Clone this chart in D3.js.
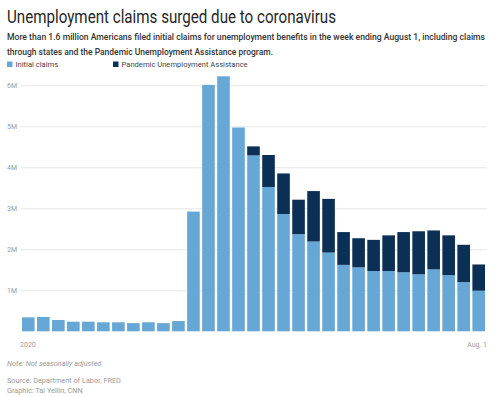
<!DOCTYPE html>
<html>
<head>
<meta charset="utf-8">
<script src="https://cdn.jsdelivr.net/npm/d3@7"></script>
<style>
  body { margin: 0; background: #fff; }
  svg { display: block; }
  text { font-family: Roboto, "Noto Sans", sans-serif; }
</style>
</head>
<body>
<div id="chart"></div>
<script>
// week ending dates, 2020
const weeks = ['01-04','01-11','01-18','01-25','02-01','02-08','02-15','02-22','02-29','03-07',
  '03-14','03-21','03-28','04-04','04-11','04-18','04-25','05-02','05-09','05-16','05-23',
  '05-30','06-06','06-13','06-20','06-27','07-04','07-11','07-18','07-25','08-01'];

// millions of claims
const initialClaims = [0.34, 0.35, 0.275, 0.235, 0.235, 0.22, 0.22, 0.20, 0.22, 0.20,
  0.25, 2.92, 6.01, 6.22, 4.97, 4.29, 3.52, 2.86, 2.37, 2.19, 1.92,
  1.62, 1.56, 1.47, 1.47, 1.44, 1.39, 1.51, 1.37, 1.20, 0.99];
const puaClaims = [0, 0, 0, 0, 0, 0, 0, 0, 0, 0,
  0, 0, 0, 0, 0, 0.22, 0.78, 0.99, 0.84, 1.23, 1.31,
  0.80, 0.71, 0.76, 0.87, 0.98, 1.05, 0.95, 0.97, 0.91, 0.64];

const yTicks = [1, 2, 3, 4, 5, 6];
const xLabels = {'01-04': '2020', '08-01': 'Aug. 1'};
const seriesNames = ['Initial claims', 'Pandemic Unemployment Assistance'];
const colors = ['#67a7d6', '#0c2f56'];

const width = 499, height = 397;

const svg = d3.select('#chart').append('svg')
  .attr('width', width)
  .attr('height', height);

// headline + dek
svg.append('text')
  .attr('x', 7).attr('y', 23)
  .attr('font-size', 17.5)
  .attr('fill', '#262626')
  .attr('textLength', 329).attr('lengthAdjust', 'spacingAndGlyphs')
  .text('Unemployment claims surged due to coronavirus');

const dek = [
  ['More than 1.6 million Americans filed initial claims for unemployment benefits in the week ending August 1, including claims', 478],
  ['through states and the Pandemic Unemployment Assistance program.', 266]
];
svg.selectAll('text.dek')
  .data(dek)
  .join('text')
    .attr('class', 'dek')
    .attr('x', 7)
    .attr('y', (d, i) => 39.5 + i * 15)
    .attr('font-size', 8.8)
    .attr('font-weight', 500)
    .attr('fill', '#333')
    .attr('textLength', d => d[1]).attr('lengthAdjust', 'spacingAndGlyphs')
    .text(d => d[0]);

// legend
const legend = svg.selectAll('g.legend')
  .data(seriesNames)
  .join('g')
    .attr('class', 'legend')
    .attr('transform', (d, i) => `translate(${i === 0 ? 7 : 113}, 61.5)`);
legend.append('rect')
  .attr('width', 5.5).attr('height', 5.5)
  .attr('fill', (d, i) => colors[i]);
legend.append('text')
  .attr('x', 8.5).attr('y', 5.3)
  .attr('font-family', '"Liberation Sans", Arial, sans-serif')
  .attr('font-size', 7.6)
  .attr('fill', '#444')
  .text(d => d);

// scales
const x = d3.scaleBand()
  .domain(weeks)
  .range([22, 485])
  .paddingInner(0.16)
  .paddingOuter(0);

const y = d3.scaleLinear()
  .domain([0, 6])
  .range([331.3, 85.3]);

// gridlines + y labels
const yAxis = svg.append('g')
  .attr('transform', 'translate(20,0)')
  .call(d3.axisLeft(y)
    .tickValues(yTicks)
    .tickSize(-467)
    .tickFormat(d => d + 'M'));
yAxis.select('.domain').remove();
yAxis.selectAll('.tick line').attr('stroke', '#e6e6e6');
yAxis.selectAll('.tick text')
  .attr('x', -13)
  .attr('text-anchor', 'start')
  .attr('font-family', 'Roboto, sans-serif')
  .attr('font-size', 7)
  .attr('fill', '#9a9a9a');

// stacked bars
const rows = weeks.map((w, i) => ({week: w, initial: initialClaims[i], pua: puaClaims[i]}));
const stacked = d3.stack().keys(['initial', 'pua'])(rows);

svg.append('g')
  .selectAll('g')
  .data(stacked)
  .join('g')
    .attr('fill', (d, i) => colors[i])
  .selectAll('rect')
  .data(d => d.filter(s => s[1] - s[0] > 0))
  .join('rect')
    .attr('x', d => x(d.data.week))
    .attr('width', x.bandwidth())
    .attr('y', d => y(d[1]))
    .attr('height', d => y(d[0]) - y(d[1]));

// x labels
const xAxis = svg.append('g')
  .attr('transform', `translate(0,${y(0)})`)
  .call(d3.axisBottom(x)
    .tickValues(Object.keys(xLabels))
    .tickSize(0)
    .tickFormat(d => xLabels[d]));
xAxis.select('.domain').remove();
xAxis.selectAll('.tick text')
  .attr('y', 11)
  .attr('font-family', 'Roboto, sans-serif')
  .attr('font-size', 7)
  .attr('fill', '#9a9a9a')
  .attr('text-anchor', (d, i) => i === 0 ? 'start' : 'end')
  .attr('dx', (d, i) => i === 0 ? -x.bandwidth() / 2 - 2 : x.bandwidth() / 2 + 2);

// footer
const footer = [
  {t: 'Note: Not seasonally adjusted', y: 366, italic: true},
  {t: 'Source: Department of Labor, FRED', y: 383, italic: false},
  {t: 'Graphic: Tal Yellin, CNN', y: 392.5, italic: false}
];
svg.selectAll('text.foot')
  .data(footer)
  .join('text')
    .attr('class', 'foot')
    .attr('x', 7)
    .attr('y', d => d.y)
    .attr('font-family', '"Liberation Sans", Arial, sans-serif')
    .attr('font-size', 7.3)
    .attr('font-style', d => d.italic ? 'italic' : 'normal')
    .attr('fill', '#999')
    .text(d => d.t);
</script>
</body>
</html>
